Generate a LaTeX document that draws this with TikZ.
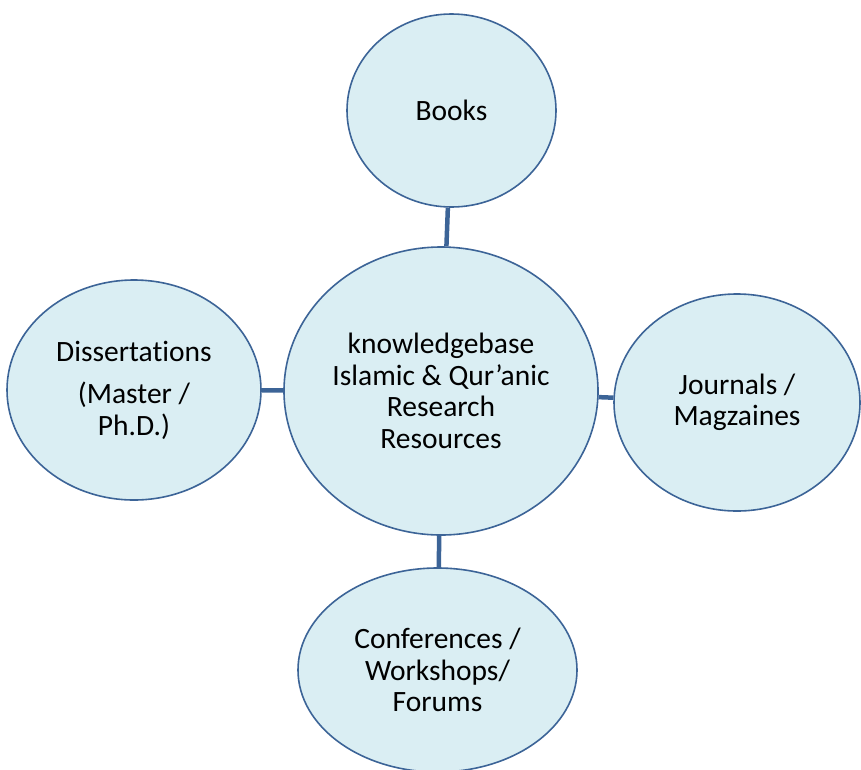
\documentclass[tikz,border=0pt]{standalone}
\usepackage{fontspec}
\setmainfont[Ligatures={NoCommon}]{Carlito}
\usetikzlibrary{shapes.geometric}
\definecolor{bubblefill}{HTML}{DAEEF3}
\definecolor{bubbleline}{HTML}{3C6497}
\begin{document}
\begin{tikzpicture}[x=1pt,y=-1pt,
  bubble/.style={ellipse, draw=bubbleline, fill=bubblefill, line width=1.6pt, inner sep=0pt, align=center, font=\fontsize{29.5}{31.5}\selectfont},
  link/.style={draw=bubbleline, line width=4.5pt}]
\useasboundingbox (0,0) rectangle (861,769);
\node[bubble, minimum width=314, minimum height=288] (center) at (441,391) {knowledgebase\\Islamic \& Qur’anic\\Research\\Resources};
\node[bubble, minimum width=209, minimum height=193] (books) at (451.5,110.5) {Books};
\node[bubble, minimum width=254, minimum height=220] (diss) at (134,390) {Dissertations\\[11pt](Master /\\Ph.D.)};
\node[bubble, minimum width=246, minimum height=217] (journ) at (737,402.5) {Journals /\\Magzaines};
\node[bubble, minimum width=279, minimum height=204] (conf) at (437.5,670) {Conferences /\\Workshops/\\Forums};
\path[link] (books) -- (center);
\path[link] (diss) -- (center);
\path[link] (journ) -- (center);
\path[link] (conf) -- (center);
\end{tikzpicture}
\end{document}
